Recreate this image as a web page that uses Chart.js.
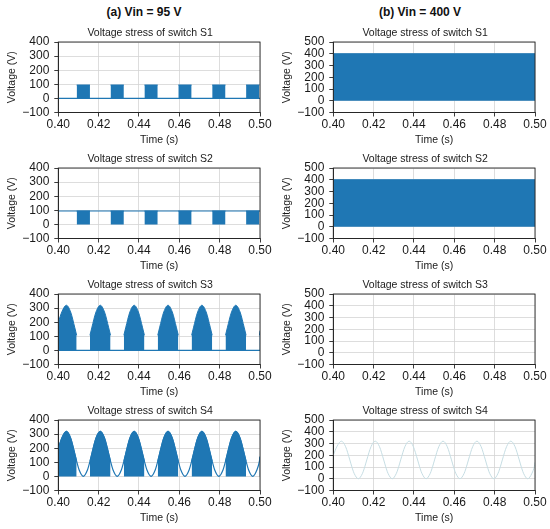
<!DOCTYPE html>
<html>
<head>
<meta charset="utf-8">
<script src="https://cdn.jsdelivr.net/npm/chart.js@4.4.0/dist/chart.umd.min.js"></script>
<style>
  body { margin: 0; background: #fff; width: 550px; height: 529px; position: relative; overflow: hidden;
         font-family: "Liberation Sans", Arial, sans-serif; }
  canvas { position: absolute; }
  .head { position: absolute; top: 5px; font-weight: bold; font-size: 12px; line-height: 14px;
          transform: translateX(-50%); white-space: nowrap; color: #111; }
</style>
</head>
<body>
<div class="head" style="left:144px">(a) Vin = 95 V</div>
<div class="head" style="left:420px">(b) Vin = 400 V</div>

<script>
// Time axis ticks
const xTicks = [0.40, 0.42, 0.44, 0.46, 0.48, 0.50];

// Sinusoidal stress envelope (s, V)
const envTime = [0.4000, 0.4019, 0.4040, 0.4061, 0.4082, 0.4091, 0.4103, 0.4124,
  0.4145, 0.4157, 0.4166, 0.4187, 0.4208, 0.4229, 0.4250, 0.4259, 0.4271, 0.4292,
  0.4313, 0.4325, 0.4334, 0.4355, 0.4376, 0.4397, 0.4418, 0.4427, 0.4439, 0.4460,
  0.4481, 0.4493, 0.4502, 0.4523, 0.4544, 0.4565, 0.4586, 0.4595, 0.4607, 0.4628,
  0.4649, 0.4661, 0.4670, 0.4691, 0.4712, 0.4733, 0.4754, 0.4763, 0.4775, 0.4796,
  0.4817, 0.4829, 0.4838, 0.4859, 0.4880, 0.4901, 0.4922, 0.4931, 0.4943, 0.4964,
  0.4985, 0.4997, 0.5000];
const envVolt = [200, 278, 320, 273, 160, 107, 47, 0,
  47, 107, 160, 273, 320, 273, 160, 107, 47, 0,
  47, 107, 160, 273, 320, 273, 160, 107, 47, 0,
  47, 107, 160, 273, 320, 273, 160, 107, 47, 0,
  47, 107, 160, 273, 320, 273, 160, 107, 47, 0,
  47, 107, 160, 273, 320, 273, 160, 107, 47, 0,
  47, 107, 140];

// S1 / S2 switching intervals at Vin = 95 V
const pulseStart = [0.4091, 0.4259, 0.4427, 0.4595, 0.4763, 0.4931];
const pulseEnd   = [0.4157, 0.4325, 0.4493, 0.4661, 0.4829, 0.4997];
const lowVinLevel = 95;    // V
const highVinLevel = 400;  // V

const BLUE = '#1f77b4';
const PALE = '#c6dde3';

// helpers to turn the arrays above into chart points
function pts(xs, ys) { return xs.map((x, i) => ({ x: x, y: ys[i] })); }
function flat(v) { return [{ x: xTicks[0], y: v }, { x: xTicks[xTicks.length - 1], y: v }]; }
function pulses(v) {
  const out = [];
  pulseStart.forEach((s, i) => {
    out.push({ x: s, y: v }, { x: pulseEnd[i], y: v }, { x: pulseEnd[i], y: null });
  });
  return out;
}
// envelope pieces between pulses (the converter switches there)
function envGaps() {
  const bounds = [xTicks[0]].concat(pulseEnd);
  const ends = pulseStart.concat([xTicks[xTicks.length - 1]]);
  const out = [];
  bounds.forEach((a, k) => {
    const b = ends[k];
    envTime.forEach((t, i) => {
      if (t >= a - 1e-9 && t <= b + 1e-9) out.push({ x: t, y: envVolt[i] });
    });
    out.push({ x: b, y: null });
  });
  return out;
}

function line(data, color, width) {
  return { data: data, borderColor: color, borderWidth: width || 1.2, fill: false,
           pointRadius: 0, cubicInterpolationMode: 'monotone' };
}
function area(data) {
  return { data: data, borderColor: BLUE, borderWidth: 1, backgroundColor: BLUE, fill: 'origin',
           pointRadius: 0, spanGaps: false, cubicInterpolationMode: 'monotone' };
}

const panels = [
  // row, col, title, yMax, datasets
  [0, 0, 'Voltage stress of switch S1', 400, [line(flat(0), BLUE), area(pulses(lowVinLevel))]],
  [1, 0, 'Voltage stress of switch S2', 400, [line(flat(lowVinLevel), BLUE), area(pulses(lowVinLevel))]],
  [2, 0, 'Voltage stress of switch S3', 400, [line(flat(0), BLUE), area(envGaps())]],
  [3, 0, 'Voltage stress of switch S4', 400, [line(pts(envTime, envVolt), BLUE), area(envGaps())]],
  [0, 1, 'Voltage stress of switch S1', 500, [area(flat(highVinLevel))]],
  [1, 1, 'Voltage stress of switch S2', 500, [area(flat(highVinLevel))]],
  [2, 1, 'Voltage stress of switch S3', 500, []],
  [3, 1, 'Voltage stress of switch S4', 500, [line(pts(envTime, envVolt), PALE, 1)]]
];

const plotTops = [42, 168, 294, 420];
const TXT = '#1a1a1a';
const FONT = { family: '"Liberation Sans", Arial, sans-serif', size: 12 };
const LBL = { family: '"Liberation Sans", Arial, sans-serif', size: 10.5 };

// frame on all four sides + subplot title
const frame = {
  id: 'frame',
  afterDraw(chart) {
    const { ctx, chartArea: a } = chart;
    ctx.save();
    ctx.strokeStyle = '#262626';
    ctx.lineWidth = 0.9;
    ctx.strokeRect(a.left, a.top, a.right - a.left, a.bottom - a.top);
    ctx.fillStyle = TXT;
    ctx.font = '10.5px "Liberation Sans", Arial, sans-serif';
    ctx.textAlign = 'center';
    ctx.textBaseline = 'middle';
    ctx.fillText(chart.options.plugins.frame.title, (a.left + a.right) / 2 - 9, a.top - 8.5);
    ctx.restore();
  }
};

panels.forEach(([row, col, title, yMax, datasets]) => {
  const cv = document.createElement('canvas');
  cv.width = 275;
  cv.height = 140;
  cv.style.left = (col * 275) + 'px';
  cv.style.top = (plotTops[row] - 26) + 'px';
  document.body.appendChild(cv);

  new Chart(cv.getContext('2d'), {
    type: 'line',
    data: { datasets: datasets },
    options: {
      responsive: false,
      animation: false,
      layout: { padding: { top: 26, right: 15, bottom: 7.5, left: 0 } },
      plugins: { legend: { display: false }, tooltip: { enabled: false }, frame: { title: title } },
      scales: {
        x: {
          type: 'linear', min: 0.40, max: 0.50,
          afterBuildTicks: s => { s.ticks = xTicks.map(v => ({ value: v })); },
          afterFit: s => { s.height = 36; },
          ticks: { font: FONT, color: TXT, padding: 1, maxRotation: 0, autoSkip: false,
                   callback: v => v.toFixed(2) },
          grid: { color: '#d4d4d4', lineWidth: 0.8, tickLength: 4, tickColor: '#262626', tickWidth: 0.9 },
          border: { color: '#262626', width: 0.9 },
          title: { display: true, text: 'Time (s)', font: LBL, color: TXT, padding: { top: 0, bottom: 2 } }
        },
        y: {
          min: -100, max: yMax,
          afterFit: s => { s.width = 58.3; },
          ticks: { font: FONT, color: TXT, padding: 5, stepSize: 100, autoSkip: false,
                   callback: v => v < 0 ? '\u2212' + Math.abs(v) : String(v) },
          grid: { color: '#d4d4d4', lineWidth: 0.8, tickLength: 4, tickColor: '#262626', tickWidth: 0.9 },
          border: { color: '#262626', width: 0.9 },
          title: { display: true, text: 'Voltage (V)', font: LBL, color: TXT, padding: { top: 5.4, bottom: 0 } }
        }
      }
    },
    plugins: [frame]
  });
});
</script>
</body>
</html>
